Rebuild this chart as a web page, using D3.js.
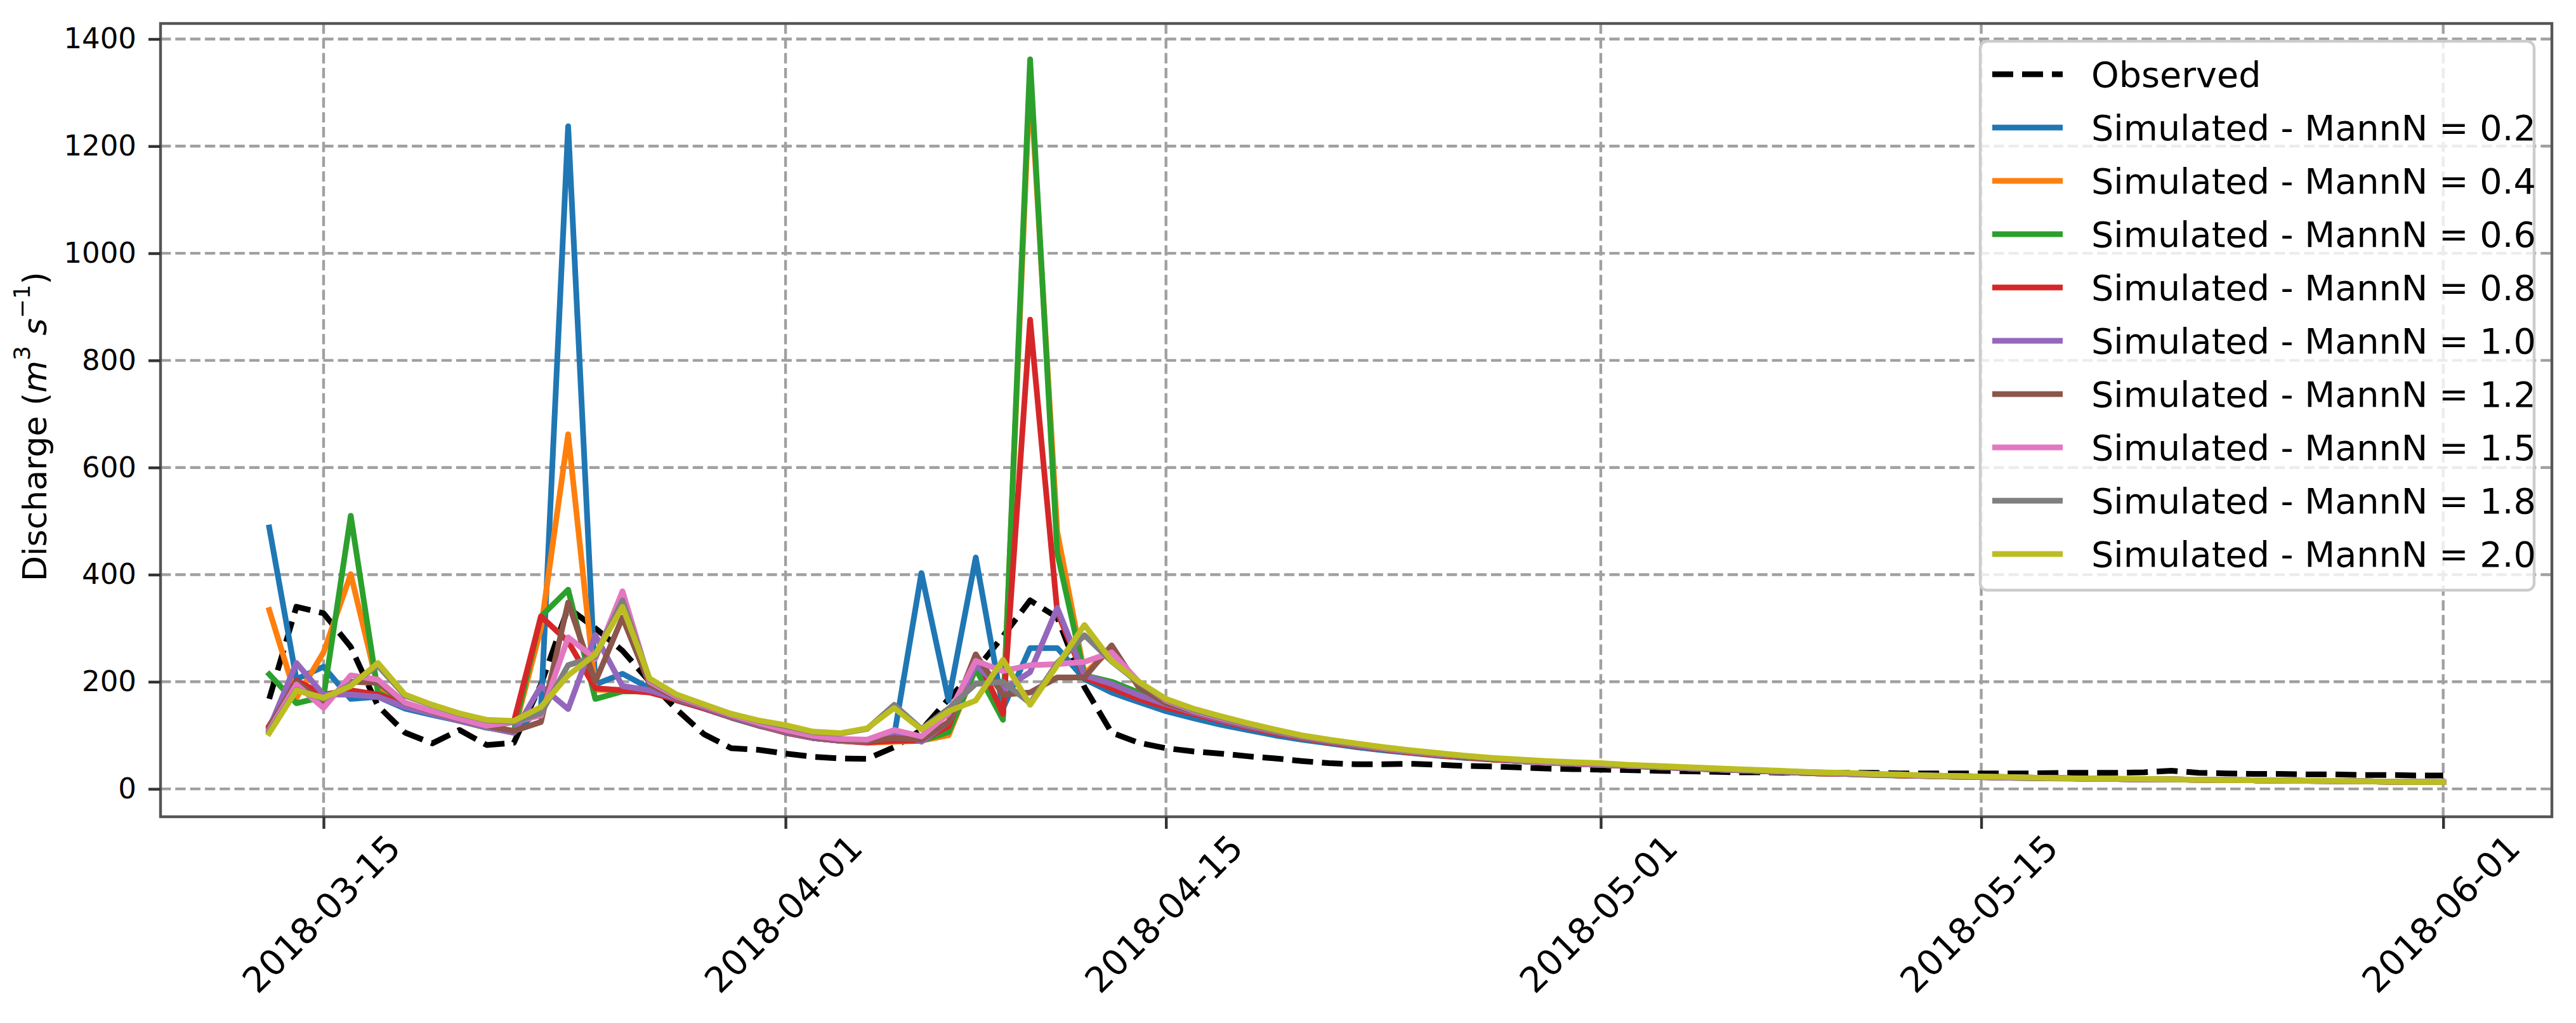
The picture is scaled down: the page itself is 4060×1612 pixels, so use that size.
<!DOCTYPE html>
<html><head><meta charset="utf-8">
<script src="https://cdn.jsdelivr.net/npm/d3@7"></script>
<style>
html,body{margin:0;padding:0;background:#fff;}
svg{display:block;}
text{font-family:"DejaVu Sans",sans-serif;white-space:pre;}
</style>
</head><body>
<svg id="chart" width="4060" height="1612"></svg>
<script>
// ---------------- data ----------------
const startDate = "2018-03-13";           // first daily value
const xTickLabels = ["2018-03-15","2018-04-01","2018-04-15","2018-05-01","2018-05-15","2018-06-01"];
const yTickValues = [0,200,400,600,800,1000,1200,1400];
const seriesNames = ["Observed","Simulated - MannN = 0.2","Simulated - MannN = 0.4","Simulated - MannN = 0.6",
  "Simulated - MannN = 0.8","Simulated - MannN = 1.0","Simulated - MannN = 1.2","Simulated - MannN = 1.5",
  "Simulated - MannN = 1.8","Simulated - MannN = 2.0"];
const seriesColors = ["#000000","#1f77b4","#ff7f0e","#2ca02c","#d62728","#9467bd","#8c564b","#e377c2","#7f7f7f","#bcbd22"];

const observed = [
  168,340,328,265,155,105,85,110,82,86,195,338,300,258,200,148,102,76,73,
  66,60,57,56,78,110,168,222,285,352,320,190,105,86,76,70,66,61,57,52,48,46,46,47,45,43,42,40,38,37,
  36,35,34,33,32,31,31,30,30,30,30,29,29,29,29,29,29,30,30,30,31,34,30,29,28,28,27,27,26,26,25,
  25];
const mann02 = [
  488,205,228,168,172,150,138,127,115,105,150,1237,195,215,188,165,150,133,118,
  106,96,91,88,100,403,165,432,150,263,263,205,180,162,145,
  132,120,110,100,92,85,78,72,67,62,58,55,52,49,47,
  45,43,41,39,37,35,33,31,29,28,26,25,24,23,22,21,20,19.5,19,18.5,18,17.5,17,16.5,16,15.5,15,14.5,14,13.5,13,
  12.5];
const mann04 = [
  334,170,255,401,190,155,140,128,115,105,300,662,185,185,182,166,151,134,119,
  105,95,90,86,88,90,100,225,135,1330,480,215,262,190,155,
  141,128,116,105,95,87,80,74,68,63,59,55,52,49,47,
  45,43,41,39,37,35,33,31,29,28,27,25,24,23,22,21,20.5,20,19,18.5,18,17.5,17,16.5,16,15.5,15,14.5,14,13.5,13,
  12.5];
const mann06 = [
  214,160,172,510,180,155,140,127,114,108,322,372,168,182,182,167,151,134,119,
  105,95,90,87,98,90,106,224,129,1362,440,212,200,180,160,
  142,128,116,105,95,87,80,74,68,63,59,55,52,49,47,
  45,43,41,39,37,35,33,31,29,28,27,25,24,23,22,21,20.5,20,19,18.5,18,17.5,17,16.5,16,15.5,15,14.5,14,13.5,13,
  12.5];
const mann08 = [
  118,202,176,184,176,158,142,128,116,125,322,275,188,184,180,166,150,134,119,
  105,95,90,87,90,90,117,251,140,876,330,208,188,168,152,
  140,127,115,104,95,87,80,74,68,63,59,55,52,49,47,
  45,43,41,39,37,35,33,31,29,28,27,25,24,23,22,21,20.5,20,19,18.5,18,17.5,17,16.5,16,15.5,15,14.5,14,13.5,13,
  12.5];
const mann10 = [
  113,235,176,176,172,153,140,127,115,105,192,149,287,192,184,168,152,135,120,
  106,95,90,88,107,88,125,231,185,218,338,212,196,175,158,
  143,129,117,106,96,88,81,75,69,64,60,56,52,49,47,
  45,43,41,39,37,35,33,31,30,28,27,26,24,23,22,21,20.5,20,19,18.5,18,17.5,17,16.5,16,15.5,15,14.5,14,13.5,13,
  12.5];
const mann12 = [
  115,200,160,200,198,160,144,130,118,108,125,348,200,320,195,170,154,137,122,
  108,97,91,89,95,92,125,251,176,180,208,208,268,190,160,
  145,131,119,107,97,89,82,76,70,65,60,56,53,50,48,
  46,44,42,40,38,36,34,32,30,29,27,26,25,24,23,22,21,20,19,18.5,18,17.5,17,16.5,16,15.5,15,14.5,14,13.5,13,
  12.5];
const mann15 = [
  110,195,151,212,204,161,145,131,118,125,137,283,243,369,200,172,155,138,123,
  110,99,93,92,110,98,141,239,220,231,233,237,255,200,165,
  146,132,120,108,98,90,83,76,70,65,61,57,53,50,48,
  46,44,42,40,38,36,34,32,30,29,27,26,25,24,23,22,21,20,19,18.5,18,17.5,17,16.5,16,15.5,15,14.5,14,13.5,13,
  12.5];
const mann18 = [
  107,185,168,195,230,174,156,140,128,125,141,231,247,352,204,175,157,140,127,
  117,106,103,112,157,112,150,196,200,160,235,287,238,198,167,
  148,134,121,109,99,91,84,77,71,66,61,57,54,51,49,
  47,44,42,40,38,36,34,32,31,29,28,26,25,24,23,22,21,20,19,18.5,18,17.5,17,16.5,16,15.5,15,14.5,14,13.5,13,
  13];
const mann20 = [
  104,184,170,192,235,176,157,141,129,127,153,212,251,340,206,176,158,140,128,
  119,107,104,113,151,111,145,165,241,157,231,306,239,200,168,
  150,136,123,111,100,92,85,78,72,67,62,58,55,52,50,
  48,45,43,41,39,37,35,33,31,30,28,27,25,24,23,22,21,20,19.5,19,18.5,18,17,16.5,16,15.5,15,14.5,14,13.5,13,
  13];
const seriesValues = [observed,mann02,mann04,mann06,mann08,mann10,mann12,mann15,mann18,mann20];

// ---------------- layout ----------------
const W = 4060, H = 1612;
const plot = {left:253, right:4022, top:37, bottom:1287};
const parse = d3.utcParse("%Y-%m-%d");
const t0 = parse(startDate);

const x = d3.scaleUtc()
  .domain([parse("2018-03-09"), parse("2018-06-05")])
  .range([plot.left, plot.right]);
const y = d3.scaleLinear().domain([-52, 1429]).range([plot.bottom, plot.top]);

const svg = d3.select("#chart");
svg.append("rect").attr("width", W).attr("height", H).attr("fill", "#fff");

const gridColor = "#a0a0a0";
const gridW = 4.4;
const gridDash = "16.3 7";
const xTicks = xTickLabels.map(parse);

// grid
const grid = svg.append("g");
grid.selectAll("line.gy").data(yTickValues).join("line")
  .attr("x1", plot.left).attr("x2", plot.right)
  .attr("y1", d => y(d)).attr("y2", d => y(d))
  .attr("stroke", gridColor).attr("stroke-width", gridW).attr("stroke-dasharray", gridDash);
grid.selectAll("line.gx").data(xTicks).join("line")
  .attr("x1", d => x(d)).attr("x2", d => x(d))
  .attr("y1", plot.top).attr("y2", plot.bottom)
  .attr("stroke", gridColor).attr("stroke-width", gridW).attr("stroke-dasharray", gridDash);

// lines
const lw = 9;
const line = d3.line()
  .x((d, i) => x(d3.utcDay.offset(t0, i)))
  .y(d => y(d));
const lines = svg.append("g").attr("fill", "none");
seriesValues.forEach((vals, k) => {
  const p = lines.append("path")
    .attr("d", line(vals))
    .attr("stroke", seriesColors[k])
    .attr("stroke-width", lw)
    .attr("stroke-linejoin", "round");
  if (k === 0) {
    p.attr("stroke-dasharray", "33 14").attr("stroke-linecap", "butt");
  } else {
    p.attr("stroke-linecap", "square");
  }
});

// spines
svg.append("rect")
  .attr("x", plot.left).attr("y", plot.top)
  .attr("width", plot.right - plot.left).attr("height", plot.bottom - plot.top)
  .attr("fill", "none").attr("stroke", "#555").attr("stroke-width", 4.4);

// y axis
const yAxis = svg.append("g").attr("transform", `translate(${plot.left},0)`)
  .call(d3.axisLeft(y).tickValues(yTickValues).tickSize(19).tickPadding(19).tickFormat(d3.format("d")));
yAxis.select(".domain").remove();
yAxis.selectAll(".tick line").attr("stroke", "#333").attr("stroke-width", 4.4);
yAxis.selectAll(".tick text").attr("font-size", 45).attr("fill", "#000")
  .attr("font-family", "DejaVu Sans");

// x axis
const xAxis = svg.append("g").attr("transform", `translate(0,${plot.bottom})`)
  .call(d3.axisBottom(x).tickValues(xTicks).tickSize(19).tickFormat(d3.utcFormat("%Y-%m-%d")));
xAxis.select(".domain").remove();
xAxis.selectAll(".tick line").attr("stroke", "#333").attr("stroke-width", 4.4);
xAxis.selectAll(".tick text")
  .attr("font-size", 55.6).attr("fill", "#000").attr("font-family", "DejaVu Sans")
  .attr("y", null).attr("dy", null)
  .attr("text-anchor", "middle").attr("dominant-baseline", "central")
  .attr("transform", "translate(-4,153) rotate(-45)");

// y label
const yl = svg.append("text")
  .attr("transform", `translate(55,672) rotate(-90)`)
  .attr("text-anchor", "middle").attr("dominant-baseline", "central")
  .attr("font-size", 52).attr("fill", "#000");
yl.append("tspan").text("Discharge (");
yl.append("tspan").attr("font-style", "italic").text("m");
yl.append("tspan").attr("font-size", 36).attr("dy", -21).text("3");
yl.append("tspan").attr("dy", 21).text(" ");
yl.append("tspan").attr("font-style", "italic").text("s");
yl.append("tspan").attr("font-size", 36).attr("dy", -21).text("\u22121");
yl.append("tspan").attr("dy", 21).text(")");

// legend
const leg = {x:3121, y:65, w:873, h:865, row0:117, pitch:84};
const lg = svg.append("g");
lg.append("rect").attr("x", leg.x).attr("y", leg.y).attr("width", leg.w).attr("height", leg.h)
  .attr("rx", 11).attr("fill", "#fff").attr("fill-opacity", 0.8)
  .attr("stroke", "#cccccc").attr("stroke-width", 4.4);
seriesNames.forEach((name, k) => {
  const cy = leg.row0 + k * leg.pitch;
  const l = lg.append("line").attr("x1", 3140).attr("x2", 3251).attr("y1", cy).attr("y2", cy)
    .attr("stroke", seriesColors[k]).attr("stroke-width", lw);
  if (k === 0) l.attr("stroke-dasharray", "33 14");
  lg.append("text").attr("x", 3296).attr("y", cy).attr("dominant-baseline", "central")
    .attr("font-size", 55.6).attr("fill", "#000").text(name);
});
</script>
</body></html>
